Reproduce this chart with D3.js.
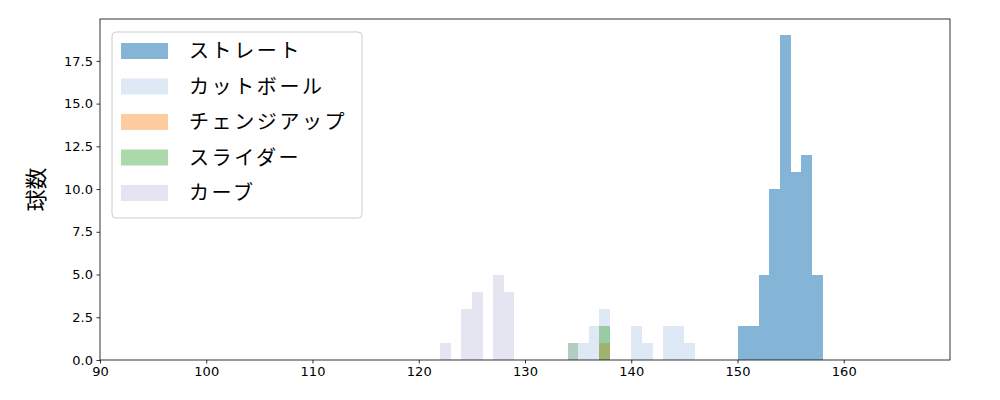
<!DOCTYPE html>
<html><head><meta charset="utf-8">
<script src="https://cdn.jsdelivr.net/npm/d3@7"></script>
<style>body{margin:0;background:#fff}svg{display:block}text{font-family:"DejaVu Sans","Noto Sans CJK JP",sans-serif}</style>
</head><body><svg id="c" width="1000" height="400"></svg>
<script>
const seriesNames = ["ストレート","カットボール","チェンジアップ","スライダー","カーブ"];
const seriesColors = ["#1f77b4","#aec7e8","#ff7f0e","#2ca02c","#bcbddc"];
const seriesOpacity = [0.55,0.4,0.4,0.4,0.4];
// bins: [start, count], bin width 1
const straightBins = [[150,2],[151,2],[152,5],[153,10],[154,19],[155,11],[156,12],[157,5]];
const cutBins = [[135,1],[136,2],[137,3],[140,2],[141,1],[143,2],[144,2],[145,1]];
const changeupBins = [[137,1]];
const sliderBins = [[134,1],[137,2]];
const curveBins = [[122,1],[124,3],[125,4],[127,5],[128,4],[134,1]];
const allBins = [straightBins,cutBins,changeupBins,sliderBins,curveBins];
const xTicks = [90,100,110,120,130,140,150,160];
const yTicks = [0,2.5,5,7.5,10,12.5,15,17.5];
const yLabel = "球数";

const svg = d3.select("#c");
const L=100,R=950,T=19,B=360;
const x = d3.scaleLinear().domain([90,170]).range([L,R]);
const y = d3.scaleLinear().domain([0,19.95]).range([B,T]);

allBins.forEach((bins,i)=>{
  svg.append("g").attr("shape-rendering","crispEdges").selectAll("rect").data(bins).join("rect")
    .attr("x",d=>Math.round(x(d[0]))).attr("width",d=>Math.round(x(d[0]+1))-Math.round(x(d[0])))
    .attr("y",d=>Math.round(y(d[1]))).attr("height",d=>B-Math.round(y(d[1])))
    .attr("fill",seriesColors[i]).attr("fill-opacity",seriesOpacity[i]);
});

const xa = svg.append("g").attr("transform",`translate(0,${B})`)
  .call(d3.axisBottom(x).tickValues(xTicks).tickSize(3.5).tickPadding(3.5).tickFormat(d3.format("d")));
const ya = svg.append("g").attr("transform",`translate(${L},0)`)
  .call(d3.axisLeft(y).tickValues(yTicks).tickSize(3.5).tickPadding(3.5).tickFormat(d3.format(".1f")));
[xa,ya].forEach(a=>{a.select(".domain").remove();a.selectAll("line").attr("stroke","#000").attr("stroke-width",0.8);
  a.selectAll("text").attr("font-size",13).attr("fill","#000");});

svg.append("rect").attr("x",L).attr("y",T).attr("width",R-L).attr("height",B-T)
  .attr("fill","none").attr("stroke","#000").attr("stroke-width",0.8);

svg.append("text").attr("transform",`translate(44,${(T+B)/2}) rotate(-90)`)
  .attr("text-anchor","middle").attr("font-size",22).attr("fill","#000")
  .style("font-family","'Noto Sans CJK JP',sans-serif").text(yLabel);

const lg = svg.append("g");
lg.append("rect").attr("x",112).attr("y",32).attr("width",250).attr("height",186).attr("rx",4)
  .attr("fill","#fff").attr("fill-opacity",0.8).attr("stroke","#ccc").attr("stroke-width",1);
seriesNames.forEach((n,i)=>{
  const cy = 51 + i*35.5;
  lg.append("rect").attr("x",121).attr("y",cy-8).attr("width",47).attr("height",16)
    .attr("fill",seriesColors[i]).attr("fill-opacity",seriesOpacity[i]);
  lg.append("text").attr("x",189).attr("y",cy).attr("dy","0.35em").attr("font-size",20)
    .attr("letter-spacing",2.6).style("font-family","'Noto Sans CJK JP',sans-serif")
    .attr("fill","#000").text(n);
});
</script></body></html>
